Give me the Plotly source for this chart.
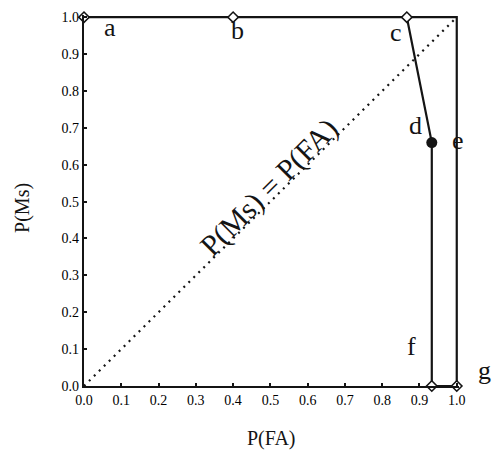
import plotly.graph_objects as go

# Operating points on the P(FA) / P(Ms) plane
point_names = ["a", "b", "c", "d", "e", "f", "g"]
p_fa = [0.0, 0.40, 0.866, 0.933, 1.0, 0.933, 1.0]
p_ms = [1.0, 1.0, 1.0, 0.66, 0.66, 0.0, 0.0]

# Outline path through the points (with the (1,1) corner)
path_order = ["a", "b", "c", "corner", "e", "g", "f", "d", "c"]
corner = (1.0, 1.0)

open_pts = ["a", "b", "c", "f", "g"]
filled_pts = ["d"]

tick_vals = [0.0, 0.1, 0.2, 0.3, 0.4, 0.5, 0.6, 0.7, 0.8, 0.9, 1.0]
tick_text = ["0.0", "0.1", "0.2", "0.3", "0.4", "0.5", "0.6", "0.7", "0.8", "0.9", "1.0"]

# label offsets in pixels (xshift, yshift)
label_shift = {
    "a": (26, -10), "b": (4, -13), "c": (-11, -15), "d": (-16, 17),
    "e": (1, 2), "f": (-20, 40), "g": (28, 16),
}

lookup = {n: (x, y) for n, x, y in zip(point_names, p_fa, p_ms)}
lookup["corner"] = corner

INK = "#141414"
SERIF = "Liberation Serif, Times New Roman, serif"

fig = go.Figure()

# diagonal P(Ms) = P(FA)
fig.add_trace(go.Scatter(
    x=[0, 1], y=[0, 1], mode="lines",
    line=dict(color=INK, width=2.2, dash="2px,5px"),
    hoverinfo="skip", showlegend=False,
))

fig.add_trace(go.Scatter(
    x=[lookup[n][0] for n in path_order],
    y=[lookup[n][1] for n in path_order],
    mode="lines", line=dict(color=INK, width=2.2),
    showlegend=False, cliponaxis=False,
))

fig.add_trace(go.Scatter(
    x=[lookup[n][0] for n in open_pts],
    y=[lookup[n][1] for n in open_pts],
    mode="markers",
    marker=dict(symbol="diamond", size=8, color="white",
                line=dict(color=INK, width=1.6)),
    showlegend=False, cliponaxis=False,
))

fig.add_trace(go.Scatter(
    x=[lookup[n][0] for n in filled_pts],
    y=[lookup[n][1] for n in filled_pts],
    mode="markers",
    marker=dict(symbol="circle", size=11, color=INK),
    showlegend=False, cliponaxis=False,
))

for n in point_names:
    dx, dy = label_shift[n]
    fig.add_annotation(
        x=lookup[n][0], y=lookup[n][1], text=n, showarrow=False,
        xshift=dx, yshift=dy,
        font=dict(family=SERIF, size=26, color=INK),
    )

fig.add_annotation(
    x=0.497, y=0.54, text="P(Ms) = P(FA)", showarrow=False,
    textangle=-45, font=dict(family=SERIF, size=30, color=INK),
)

# axis titles
fig.add_annotation(
    xref="paper", yref="paper", x=0.499, y=0, yshift=-52,
    xanchor="center", yanchor="middle",
    text="P(FA)", showarrow=False,
    font=dict(family=SERIF, size=20, color=INK),
)
fig.add_annotation(
    xref="paper", yref="paper", x=0, y=0.48, xshift=-61,
    xanchor="center", yanchor="middle",
    text="P(Ms)", showarrow=False, textangle=-90,
    font=dict(family=SERIF, size=20, color=INK),
)

axis_common = dict(
    range=[0, 1.006], tickvals=tick_vals, ticktext=tick_text,
    ticks="inside", ticklen=3, tickwidth=1.5, tickcolor=INK,
    showline=True, linecolor=INK, linewidth=2.4,
    showgrid=False, zeroline=False, automargin=False,
    tickfont=dict(family=SERIF, size=14, color="#000000"),
)

fig.update_xaxes(**axis_common)
fig.update_yaxes(**axis_common)

fig.update_layout(
    width=494, height=456,
    margin=dict(l=84, r=35, t=15, b=70),
    paper_bgcolor="white", plot_bgcolor="white",
)

fig.write_html("out.html")
